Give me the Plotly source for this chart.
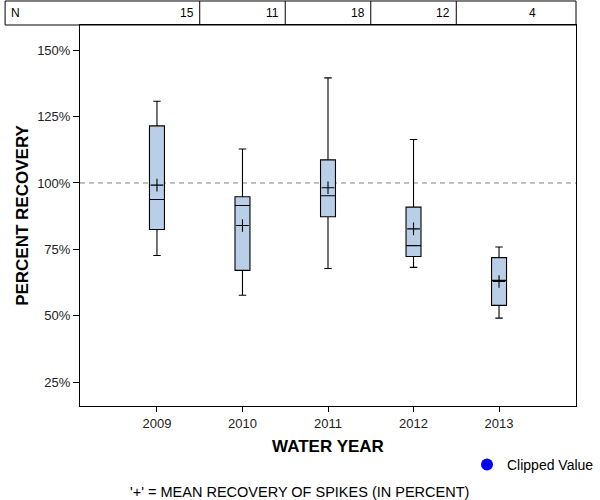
import plotly.graph_objects as go

# ---- data ----
years = [2009, 2010, 2011, 2012, 2013]
counts = [15, 11, 18, 12, 4]
upper_whisker = [130.8, 112.8, 139.6, 116.4, 75.9]
q3_vals = [121.5, 94.8, 108.7, 90.9, 71.9]
median_vals = [93.8, 91.5, 95.2, 76.4, 63.3]
q1_vals = [82.5, 67.1, 87.3, 72.3, 53.9]
lower_whisker = [72.7, 57.7, 67.8, 68.2, 49.1]
mean_vals = [99.2, 84.0, 98.2, 82.7, 62.9]
y_ticks = [25, 50, 75, 100, 125, 150]
y_tick_labels = ["25%", "50%", "75%", "100%", "125%", "150%"]

FONT = "Arial, 'Liberation Sans', sans-serif"
X_RANGE = [2008.1, 2013.9]
Y_RANGE = [16.0, 159.5]

fig = go.Figure()

fig.add_trace(go.Box(
    x=years,
    q1=q1_vals, median=median_vals, q3=q3_vals,
    lowerfence=lower_whisker, upperfence=upper_whisker,
    width=0.175, whiskerwidth=0.5,
    fillcolor="#B9CFE7",
    line=dict(color="black", width=1.1),
    boxpoints=False, showlegend=False, hoverinfo="skip",
))

fig.add_trace(go.Scatter(
    x=years, y=mean_vals, mode="markers",
    marker=dict(symbol="cross-thin", size=9, color="black",
                line=dict(color="black", width=1.1)),
    showlegend=False, hoverinfo="skip",
))

# legend entry for clipped values (none present)
fig.add_trace(go.Scatter(
    x=[None], y=[None], mode="markers", name="Clipped Value",
    marker=dict(symbol="circle", size=9, color="#0000FF"),
))

shapes = []
# reference line at 100%
shapes.append(dict(type="line", xref="paper", yref="y", x0=0, x1=1, y0=100, y1=100,
                   line=dict(color="#808080", width=1, dash="5px,4px"), layer="below"))

# N table above the plot
def xpaper(v):
    return (v - X_RANGE[0]) / (X_RANGE[1] - X_RANGE[0])

tbl_left = -0.151
tbl_top = 1.063
shapes.append(dict(type="rect", xref="paper", yref="paper", x0=tbl_left, x1=1.0,
                   y0=1.0, y1=tbl_top, line=dict(color="black", width=1)))
for yr in years[:-1]:
    xp = xpaper(yr + 0.5)
    shapes.append(dict(type="line", xref="paper", yref="paper", x0=xp, x1=xp,
                       y0=1.0, y1=tbl_top, line=dict(color="black", width=1)))

annotations = []
annotations.append(dict(text="N", xref="paper", yref="paper", x=tbl_left, y=(1.0 + tbl_top) / 2,
                        xanchor="left", yanchor="middle", xshift=4, showarrow=False,
                        font=dict(family=FONT, size=12, color="black")))
for yr, c in zip(years, counts):
    annotations.append(dict(text=str(c), xref="paper", yref="paper",
                            x=min(xpaper(yr + 0.5), 1.0), y=(1.0 + tbl_top) / 2,
                            xanchor="right", yanchor="middle", xshift=-4, showarrow=False,
                            font=dict(family=FONT, size=12, color="black")))

annotations.append(dict(text="'+' = MEAN RECOVERY OF SPIKES (IN PERCENT)", xref="paper", yref="paper",
                        x=(299 - 80) / 496, y=(406 - 492) / 381, xanchor="center", yanchor="middle",
                        showarrow=False, font=dict(family=FONT, size=14.5, color="black")))

fig.update_layout(
    width=600, height=500,
    margin=dict(l=80, r=24, t=25, b=94, autoexpand=False),
    paper_bgcolor="white", plot_bgcolor="white",
    font=dict(family=FONT, size=12, color="black"),
    shapes=shapes, annotations=annotations,
    legend=dict(x=(467 - 80) / 496, y=(406 - 465) / 381, xanchor="left", yanchor="middle",
                font=dict(family=FONT, size=14, color="black"),
                bgcolor="rgba(0,0,0,0)", itemsizing="constant"),
    showlegend=True,
)

fig.update_xaxes(
    range=X_RANGE, tickvals=years, ticktext=[str(y) for y in years],
    ticks="outside", ticklen=5, tickcolor="black",
    showline=True, linecolor="black", linewidth=1, mirror=True,
    showgrid=False, zeroline=False,
    tickfont=dict(family=FONT, size=13, color="#222"),
    title=dict(text="<b>WATER YEAR</b>", font=dict(family=FONT, size=17, color="black"), standoff=10),
)
fig.update_yaxes(
    range=Y_RANGE, tickvals=y_ticks, ticktext=y_tick_labels,
    ticks="outside", ticklen=6, tickcolor="black",
    showline=True, linecolor="black", linewidth=1, mirror=True,
    showgrid=False, zeroline=False,
    tickfont=dict(family=FONT, size=13, color="#222"),
    title=dict(text="<b>PERCENT RECOVERY</b>", font=dict(family=FONT, size=17, color="black"), standoff=4),
)

fig.write_html("out.html", config={"displayModeBar": False},
               post_script="document.body.style.margin='0px';")
